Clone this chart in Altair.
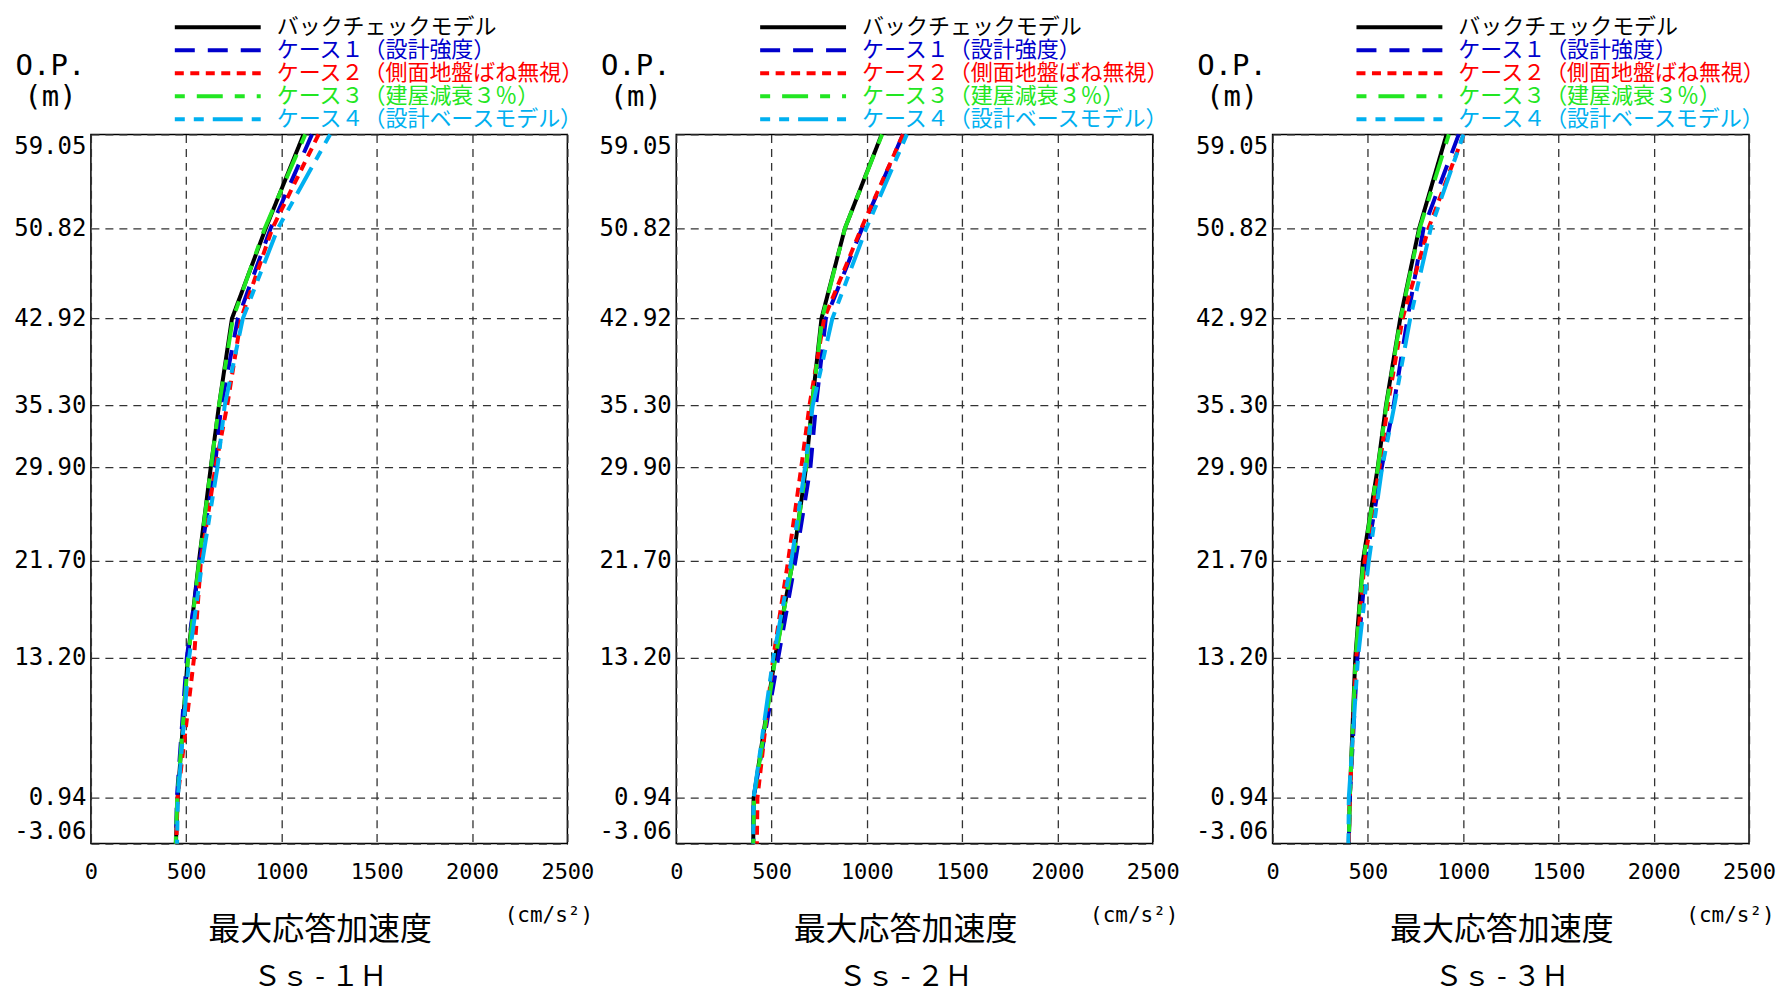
import altair as alt
import pandas as pd

# ---- data ----
levels = [59.05, 50.82, 42.92, 35.30, 29.90, 21.70, 13.20, 0.94, -3.06]
series_names = [
    "バックチェックモデル",
    "ケース１（設計強度）",
    "ケース２（側面地盤ばね無視）",
    "ケース３（建屋減衰３％）",
    "ケース４（設計ベースモデル）",
]
series_colors = ["#000000", "#0000CC", "#FF0000", "#22E622", "#00B0F0"]
series_dashes = [[1, 0], [20, 13], [9, 6.5], [10, 12, 26, 12], [10, 9, 10, 9, 30, 9]]
panel_titles = ["Ｓｓ - １Ｈ", "Ｓｓ - ２Ｈ", "Ｓｓ - ３Ｈ"]
x_ticks = [0, 500, 1000, 1500, 2000, 2500]

# Ss-1H
ss1_back = [1116, 917, 740, 672, 629, 567, 508, 455, 446]
ss1_case1 = [1160, 943, 771, 684, 650, 571, 503, 451, 446]
ss1_case2 = [1195, 952, 788, 715, 653, 577, 541, 455, 448]
ss1_case3 = [1125, 912, 745, 672, 630, 568, 510, 453, 445]
ss1_case4 = [1255, 981, 797, 702, 664, 585, 515, 456, 452]
# Ss-2H
ss2_back = [1078, 885, 762, 712, 681, 612, 518, 406, 404]
ss2_case1 = [1190, 975, 785, 733, 704, 625, 535, 406, 404]
ss2_case2 = [1190, 971, 776, 699, 656, 587, 509, 426, 423]
ss2_case3 = [1080, 885, 765, 712, 682, 612, 520, 408, 404]
ss2_case4 = [1210, 997, 819, 716, 676, 604, 509, 406, 404]
# Ss-3H
ss3_back = [913, 769, 670, 595, 552, 474, 434, 405, 400]
ss3_case1 = [977, 792, 708, 635, 573, 491, 445, 405, 400]
ss3_case2 = [1003, 818, 682, 604, 561, 483, 439, 405, 400]
ss3_case3 = [925, 772, 672, 597, 553, 476, 436, 405, 400]
ss3_case4 = [1002, 830, 722, 639, 575, 505, 448, 400, 398]

panels = [
    [ss1_back, ss1_case1, ss1_case2, ss1_case3, ss1_case4],
    [ss2_back, ss2_case1, ss2_case2, ss2_case3, ss2_case4],
    [ss3_back, ss3_case1, ss3_case2, ss3_case3, ss3_case4],
]

CJK = "Noto Sans CJK JP"
MONO = "DejaVu Sans Mono"

names_js = "[" + ",".join("'" + n + "'" for n in series_names) + "]"
cols_js = "[" + ",".join("'" + c + "'" for c in series_colors) + "]"
label_color_expr = f"{cols_js}[indexof({names_js}, datum.label)]"


def make_panel(i, vals):
    rows = []
    for s_idx, name in enumerate(series_names):
        for k, (lv, v) in enumerate(zip(levels, vals[s_idx])):
            rows.append({"series": name, "elev": lv, "acc": v, "k": k})
    df = pd.DataFrame(rows)

    leg = alt.Legend(
        title=None,
        orient="none",
        legendX=82,
        legendY=-118.6,
        symbolType="stroke",
        symbolSize=7396,
        symbolStrokeWidth=4,
        labelOffset=14,
        labelFont=CJK,
        labelFontSize=22,
        labelLimit=0,
        clipHeight=22.77,
        rowPadding=0,
        padding=0,
        labelColor={"expr": label_color_expr},
    )

    xaxis = alt.Axis(
        values=x_ticks,
        format="d",
        labelFont=MONO,
        labelFontSize=22,
        labelColor="black",
        labelPadding=18,
        labelFlush=False,
        ticks=False,
        domain=False,
        grid=True,
        gridDash=[8, 6],
        gridColor="#333333",
        gridWidth=1.3,
        title="(cm/s²)",
        titleX=458,
        titleY=72,
        titleAlign="center",
        titleBaseline="middle",
        titleFont=MONO,
        titleFontSize=21,
        titleFontWeight="normal",
        titleColor="black",
    )
    yaxis = alt.Axis(
        values=levels,
        labelExpr="datum.value < 0 ? '-' + format(-datum.value, '.2f') : format(datum.value, '.2f')",
        labelFont=MONO,
        labelFontSize=24,
        labelColor="black",
        labelPadding=5,
        labelFlush=True,
        ticks=False,
        domain=False,
        grid=True,
        gridDash=[8, 6],
        gridColor="#333333",
        gridWidth=1.3,
        title=["O.P.", "(m)"],
        titleAngle=0,
        titleX=-41,
        titleY=-83,
        titleAlign="center",
        titleBaseline="top",
        titleFont=MONO,
        titleFontSize=29,
        titleFontWeight="normal",
        titleLineHeight=31,
        titleColor="black",
    )

    chart = (
        alt.Chart(df)
        .mark_line(strokeWidth=4, strokeCap="butt")
        .encode(
            x=alt.X("acc:Q", scale=alt.Scale(domain=[0, 2500], nice=False, zero=False), axis=xaxis),
            y=alt.Y("elev:Q", scale=alt.Scale(domain=[-3.06, 59.05], nice=False, zero=False), axis=yaxis),
            color=alt.Color("series:N", scale=alt.Scale(domain=series_names, range=series_colors), legend=leg),
            strokeDash=alt.StrokeDash("series:N", scale=alt.Scale(domain=series_names, range=series_dashes), legend=leg),
            order=alt.Order("k:Q"),
        )
        .properties(
            width=477,
            height=710,
            title=alt.TitleParams(
                text="最大応答加速度",
                subtitle=panel_titles[i],
                orient="bottom",
                anchor="middle",
                frame="group",
                font=CJK,
                fontSize=32,
                fontWeight="normal",
                color="black",
                subtitleFont=CJK,
                subtitleFontSize=28,
                subtitleColor="black",
                subtitlePadding=18,
                offset=-11,
                dx=-9,
            ),
        )
    )
    return chart


p1, p2, p3 = [make_panel(i, v) for i, v in enumerate(panels)]

left_pair = (
    alt.hconcat(p1, p2, spacing=3)
    .resolve_legend(color="independent", strokeDash="independent")
    .resolve_scale(color="independent", strokeDash="independent")
)

chart = (
    alt.hconcat(left_pair, p3, spacing=14)
    .resolve_legend(color="independent", strokeDash="independent")
    .resolve_scale(color="independent", strokeDash="independent")
    .properties(padding={"left": 5, "top": 6, "right": 0, "bottom": 0})
    .configure_view(stroke="black", strokeWidth=1.5)
)

chart.save("out.html", embed_options={"renderer": "svg", "actions": False})
